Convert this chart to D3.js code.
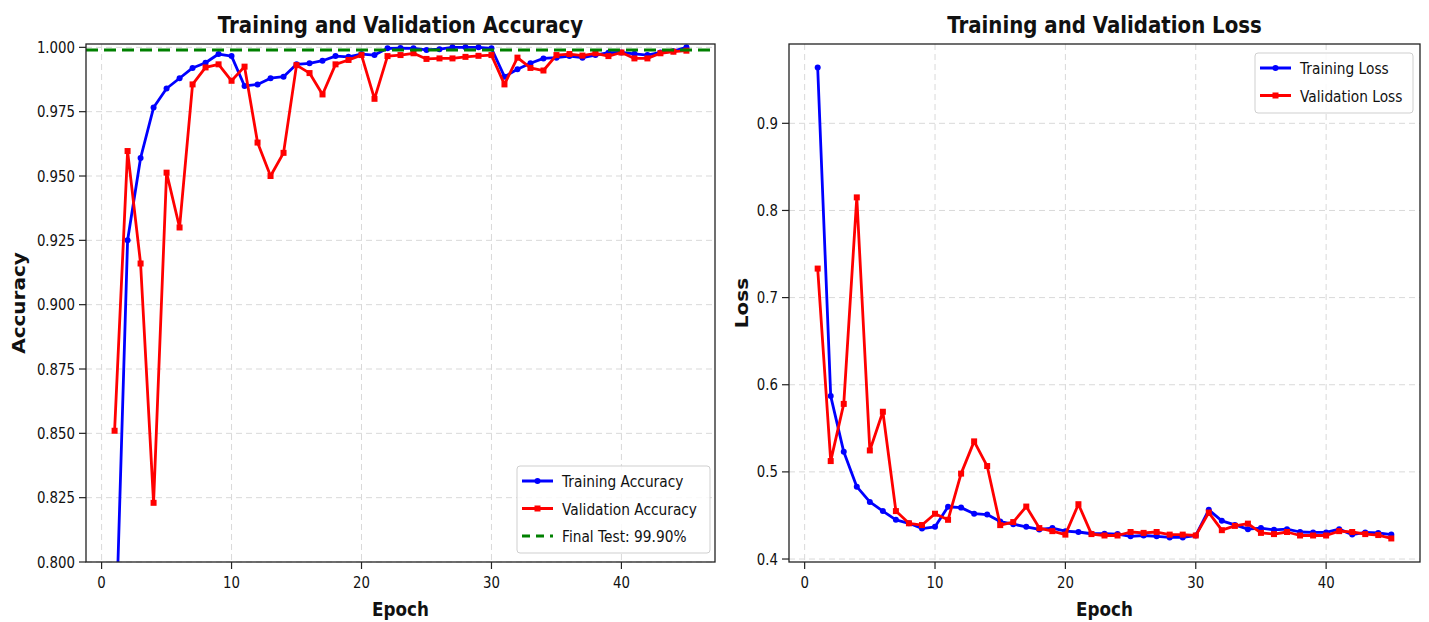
<!DOCTYPE html>
<html>
<head>
<meta charset="utf-8">
<script src="https://cdn.jsdelivr.net/npm/d3@7"></script>
<style>
body { margin: 0; background: #fff; }
text { font-family: "DejaVu Sans", sans-serif; fill: #111; }
</style>
</head>
<body>
<svg id="chart" width="1429" height="622"></svg>
<script>
// epochs 1..45
const epochs = [1, 2, 3, 4, 5, 6, 7, 8, 9, 10, 11, 12, 13, 14, 15, 16, 17, 18, 19, 20,
    21, 22, 23, 24, 25, 26, 27, 28, 29, 30, 31, 32, 33, 34, 35, 36, 37, 38, 39, 40,
    41, 42, 43, 44, 45];

const train_acc = [0.756, 0.925, 0.957, 0.9766, 0.984, 0.988, 0.992, 0.994, 0.9974, 0.9966,
    0.985, 0.9856, 0.988, 0.9886, 0.9934, 0.9938, 0.9948, 0.9966, 0.9963, 0.9974,
    0.997, 0.9996, 0.9997, 0.9996, 0.999, 0.9993, 1.0, 1.0, 1.0, 0.9996,
    0.9886, 0.9915, 0.9938, 0.9957, 0.996, 0.9966, 0.996, 0.997, 0.9979, 0.998,
    0.9975, 0.997, 0.998, 0.9985, 1.0];

const val_acc = [0.851, 0.9597, 0.916, 0.823, 0.9513, 0.930, 0.9856, 0.9922, 0.9934, 0.987,
    0.9925, 0.963, 0.950, 0.959, 0.9931, 0.990, 0.9817, 0.9934, 0.9951, 0.997,
    0.980, 0.9966, 0.997, 0.9977, 0.9955, 0.9957, 0.9957, 0.9963, 0.9967, 0.997,
    0.9856, 0.996, 0.992, 0.991, 0.997, 0.9974, 0.9968, 0.9977, 0.9966, 0.998,
    0.9957, 0.9957, 0.9977, 0.9983, 0.9987];

const train_loss = [0.964, 0.587, 0.523, 0.483, 0.4655, 0.455, 0.445, 0.441, 0.435, 0.437,
    0.460, 0.459, 0.452, 0.451, 0.443, 0.440, 0.437, 0.434, 0.4355, 0.432,
    0.431, 0.429, 0.429, 0.4286, 0.426, 0.427, 0.426, 0.4248, 0.4248, 0.427,
    0.4564, 0.4438, 0.4391, 0.4343, 0.4355, 0.4335, 0.4343, 0.431, 0.4305, 0.4305,
    0.4343, 0.428, 0.4305, 0.430, 0.428];

const val_loss = [0.7333, 0.5124, 0.578, 0.815, 0.5246, 0.569, 0.455, 0.441, 0.439, 0.452,
    0.445, 0.498, 0.535, 0.5067, 0.4389, 0.4424, 0.4602, 0.4355, 0.432, 0.428,
    0.4629, 0.4286, 0.427, 0.427, 0.431, 0.430, 0.431, 0.428, 0.428, 0.427,
    0.4533, 0.4331, 0.438, 0.4406, 0.430, 0.4286, 0.431, 0.427, 0.427, 0.427,
    0.432, 0.431, 0.4286, 0.4275, 0.4236];

const final_test_acc = 0.999;

const x_ticks = [0, 10, 20, 30, 40];
const acc_ticks = [0.800, 0.825, 0.850, 0.875, 0.900, 0.925, 0.950, 0.975, 1.000];
const loss_ticks = [0.4, 0.5, 0.6, 0.7, 0.8, 0.9];

const acc_legend = ["Training Accuracy", "Validation Accuracy", "Final Test: 99.90%"];
const loss_legend = ["Training Loss", "Validation Loss"];

// horizontal squeeze of the text, the figure was resized
const K = 0.86;
const color_train = "#0000ff";
const color_val = "#ff0000";
const color_test = "#008000";

let svg = d3.select("#chart");

function put_text(g, x, y, str, size, anchor, bold)
{
    return g.append("text")
        .attr("transform", `translate(${x},${y}) scale(${K},1)`)
        .attr("font-size", size)
        .attr("font-weight", bold ? "bold" : null)
        .attr("text-anchor", anchor)
        .text(str);
}

function draw_panel(p)
{
    const g = svg.append("g");
    const x = d3.scaleLinear().domain([-1.2, 47.2]).range([p.left, p.right]);
    const y = d3.scaleLinear().domain(p.ydomain).range([p.bottom, p.top]);

    // grid
    const grid = g.append("g")
        .attr("stroke", "#d9d9d9")
        .attr("stroke-width", 1)
        .attr("stroke-dasharray", "6,4");
    grid.selectAll("line.gx").data(p.xticks).join("line")
        .attr("x1", d => x(d)).attr("x2", d => x(d))
        .attr("y1", p.top).attr("y2", p.bottom);
    grid.selectAll("line.gy").data(p.yticks).join("line")
        .attr("x1", p.left).attr("x2", p.right)
        .attr("y1", d => y(d)).attr("y2", d => y(d));

    const clip_id = "clip" + p.id;
    svg.append("clipPath").attr("id", clip_id)
        .append("rect")
        .attr("x", p.left).attr("y", p.top)
        .attr("width", p.right - p.left).attr("height", p.bottom - p.top);

    const plot = g.append("g").attr("clip-path", `url(#${clip_id})`);
    const line = d3.line().x((d, i) => x(epochs[i])).y(d => y(d));

    // training series, circle markers
    plot.append("path")
        .attr("d", line(p.train))
        .attr("fill", "none")
        .attr("stroke", color_train)
        .attr("stroke-width", 2.8)
        .attr("stroke-linejoin", "round");
    plot.selectAll("circle").data(p.train).join("circle")
        .attr("cx", (d, i) => x(epochs[i]))
        .attr("cy", d => y(d))
        .attr("r", 3)
        .attr("fill", color_train);

    // validation series, square markers
    plot.append("path")
        .attr("d", line(p.val))
        .attr("fill", "none")
        .attr("stroke", color_val)
        .attr("stroke-width", 2.8)
        .attr("stroke-linejoin", "round");
    plot.selectAll("rect").data(p.val).join("rect")
        .attr("x", (d, i) => x(epochs[i]) - 3)
        .attr("y", d => y(d) - 3)
        .attr("width", 6).attr("height", 6)
        .attr("fill", color_val);

    if (p.test != null)
    {
        plot.append("line")
            .attr("x1", p.left).attr("x2", p.right)
            .attr("y1", y(p.test)).attr("y2", y(p.test))
            .attr("stroke", color_test)
            .attr("stroke-width", 3)
            .attr("stroke-dasharray", "12,6");
    }

    // frame
    g.append("rect")
        .attr("x", p.left).attr("y", p.top)
        .attr("width", p.right - p.left).attr("height", p.bottom - p.top)
        .attr("fill", "none")
        .attr("stroke", "#222")
        .attr("stroke-width", 1.3);

    // ticks
    const ticks = g.append("g").attr("stroke", "#222").attr("stroke-width", 1.2);
    ticks.selectAll("line.tx").data(p.xticks).join("line")
        .attr("x1", d => x(d)).attr("x2", d => x(d))
        .attr("y1", p.bottom).attr("y2", p.bottom + 7);
    ticks.selectAll("line.ty").data(p.yticks).join("line")
        .attr("x1", p.left - 7).attr("x2", p.left)
        .attr("y1", d => y(d)).attr("y2", d => y(d));

    for (const t of p.xticks)
    {
        put_text(g, x(t), p.bottom + 26, String(t), 15.5, "middle", false);
    }
    for (const t of p.yticks)
    {
        put_text(g, p.left - 11, y(t) + 5.5, p.yfmt(t), 15.5, "end", false);
    }

    // titles and labels
    put_text(g, (p.left + p.right) / 2, 33, p.title, 23, "middle", true);
    put_text(g, (p.left + p.right) / 2, 616, "Epoch", 19.5, "middle", true);
    g.append("text")
        .attr("transform", `translate(${p.ylabel_x},${(p.top + p.bottom) / 2}) rotate(-90) scale(1,${K})`)
        .attr("font-size", 20)
        .attr("font-weight", "bold")
        .attr("text-anchor", "middle")
        .text(p.ylabel);

    // legend
    const lg = g.append("g");
    const L = p.legend;
    lg.append("rect")
        .attr("x", L.x).attr("y", L.y)
        .attr("width", L.w).attr("height", L.h)
        .attr("rx", 3)
        .attr("fill", "#fff").attr("fill-opacity", 0.85)
        .attr("stroke", "#cfcfcf").attr("stroke-width", 1);
    const styles = [
        { color: color_train, dash: null, marker: "circle" },
        { color: color_val, dash: null, marker: "square" },
        { color: color_test, dash: "8,6", marker: null }
    ];
    p.legend_labels.forEach((lab, i) =>
    {
        const cy = L.y + 15 + i * 27.5;
        const st = styles[i];
        lg.append("line")
            .attr("x1", L.x + 5).attr("x2", L.x + 36)
            .attr("y1", cy).attr("y2", cy)
            .attr("stroke", st.color)
            .attr("stroke-width", 3)
            .attr("stroke-dasharray", st.dash);
        if (st.marker == "circle")
        {
            lg.append("circle").attr("cx", L.x + 20.5).attr("cy", cy).attr("r", 3).attr("fill", st.color);
        }
        else if (st.marker == "square")
        {
            lg.append("rect").attr("x", L.x + 17.5).attr("y", cy - 3).attr("width", 6).attr("height", 6).attr("fill", st.color);
        }
        put_text(lg, L.x + 45, cy + 6, lab, 16, "start", false);
    });
}

draw_panel({
    id: "acc",
    left: 86, right: 715, top: 44, bottom: 562,
    ydomain: [0.8, 1.0013],
    xticks: x_ticks,
    yticks: acc_ticks,
    yfmt: d3.format(".3f"),
    train: train_acc,
    val: val_acc,
    test: final_test_acc,
    title: "Training and Validation Accuracy",
    ylabel: "Accuracy",
    ylabel_x: 25,
    legend: { x: 517, y: 466, w: 193, h: 87 },
    legend_labels: acc_legend
});

const loss_all = train_loss.concat(val_loss);
const [lo, hi] = d3.extent(loss_all);
const pad = (hi - lo) * 0.05;

draw_panel({
    id: "loss",
    left: 789, right: 1420, top: 44, bottom: 562,
    ydomain: [lo - pad, hi + pad],
    xticks: x_ticks,
    yticks: loss_ticks,
    yfmt: d3.format(".1f"),
    train: train_loss,
    val: val_loss,
    test: null,
    title: "Training and Validation Loss",
    ylabel: "Loss",
    ylabel_x: 748,
    legend: { x: 1255, y: 53, w: 158, h: 60 },
    legend_labels: loss_legend
});
</script>
</body>
</html>
